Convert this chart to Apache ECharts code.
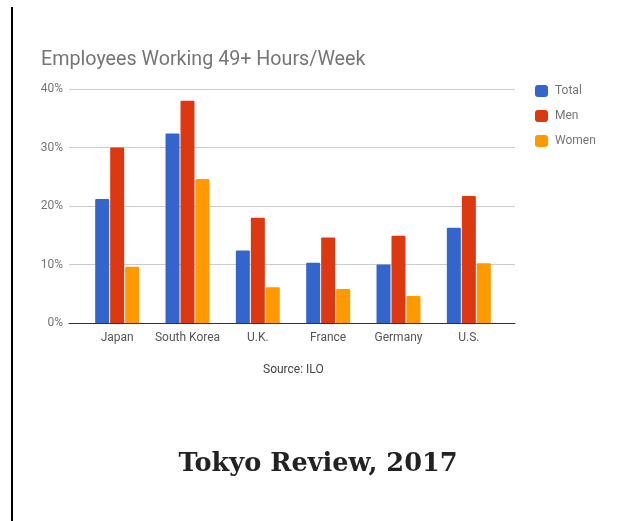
<!DOCTYPE html>
<html>
<head>
<meta charset="utf-8">
<script src="https://cdn.jsdelivr.net/npm/echarts@6/dist/echarts.min.js"></script>
<style>
html,body{margin:0;padding:0;background:#fff;}
#chart{width:624px;height:521px;}
</style>
</head>
<body>
<div id="chart"></div>
<script>
var categories = ['Japan', 'South Korea', 'U.K.', 'France', 'Germany', 'U.S.'];
var totalValues = [21.2, 32.4, 12.4, 10.3, 10.0, 16.3];
var menValues = [30.0, 38.0, 18.0, 14.6, 14.9, 21.7];
var womenValues = [9.6, 24.6, 6.1, 5.8, 4.6, 10.2];
var yTicks = [0, 10, 20, 30, 40];

var chart = echarts.init(document.getElementById('chart'), null, {renderer: 'canvas'});
var font = 'Roboto';
var option = {
  animation: false,
  backgroundColor: '#ffffff',
  title: [
    {text: 'Employees Working 49+ Hours/Week', left: 41, top: 50, padding: 0,
     textStyle: {fontFamily: font, fontSize: 19.7, fontWeight: 'normal', color: '#757575'}},
    {text: 'Source: ILO', left: 263, top: 364, padding: 0,
     textStyle: {fontFamily: font, fontSize: 12, fontWeight: 'normal', color: '#444444'}},
    {text: 'Tokyo Review, 2017', left: 318, top: 451, textAlign: 'center', padding: 0,
     textStyle: {fontFamily: 'DejaVu Serif', fontSize: 25.6, fontWeight: 'bold', color: '#222222'}}
  ],
  legend: {
    orient: 'vertical', left: 535, top: 85, padding: 0,
    itemWidth: 13, itemHeight: 12, itemGap: 13,
    icon: 'roundRect',
    data: ['Total', 'Men', 'Women'],
    textStyle: {fontFamily: font, fontSize: 12, color: '#757575', padding: [0, 0, 0, 2]}
  },
  grid: [
    {left: 69, right: 109, top: 89, bottom: 198},
    {left: 82, right: 120, top: 89, bottom: 198}
  ],
  xAxis: [
    {gridIndex: 0, type: 'category', data: [''],
     axisLine: {show: true, lineStyle: {color: '#333333', width: 1}},
     axisTick: {show: false}, axisLabel: {show: false}, splitLine: {show: false}},
    {gridIndex: 1, type: 'category', data: categories,
     axisLine: {show: false}, axisTick: {show: false},
     axisLabel: {interval: 0, margin: 9, fontFamily: font, fontSize: 12, color: '#555555'}}
  ],
  yAxis: [
    {gridIndex: 0, type: 'value', min: yTicks[0], max: yTicks[yTicks.length - 1], interval: 10,
     axisLine: {show: false}, axisTick: {show: false},
     axisLabel: {margin: 6, fontFamily: font, fontSize: 12, color: '#757575', formatter: '{value}%'},
     splitLine: {lineStyle: {color: '#cccccc', width: 1}}},
    {gridIndex: 1, type: 'value', min: yTicks[0], max: yTicks[yTicks.length - 1], interval: 10,
     show: false, splitLine: {show: false}}
  ],
  series: [
    {name: 'Total', type: 'bar', xAxisIndex: 1, yAxisIndex: 1, data: totalValues,
     barWidth: 14, barGap: '7%', itemStyle: {color: '#3366cc', borderRadius: [1, 1, 0, 0]}, z: 1},
    {name: 'Men', type: 'bar', xAxisIndex: 1, yAxisIndex: 1, data: menValues,
     barWidth: 14, barGap: '7%', itemStyle: {color: '#dc3912', borderRadius: [1, 1, 0, 0]}, z: 1},
    {name: 'Women', type: 'bar', xAxisIndex: 1, yAxisIndex: 1, data: womenValues,
     barWidth: 14, barGap: '7%', itemStyle: {color: '#ff9900', borderRadius: [1, 1, 0, 0]}, z: 1}
  ],
  graphic: [
    {type: 'line', shape: {x1: 12, y1: 7, x2: 12, y2: 521},
     style: {stroke: '#000000', lineWidth: 2}, silent: true}
  ]
};
chart.setOption(option);
</script>
</body>
</html>
